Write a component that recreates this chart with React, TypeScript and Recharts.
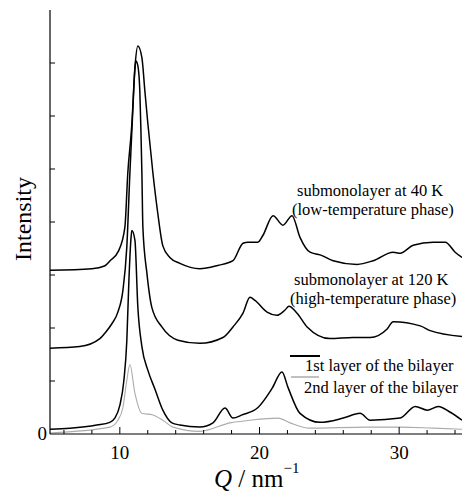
import { LineChart, Line, XAxis, YAxis } from 'recharts'

// Q / nm^-1 and intensity (arb. units), one pair of arrays per trace
const q40K = [5, 8, 8.9, 9.3, 9.9, 10.36, 10.57, 10.86, 11.08, 11.29, 11.58, 11.79, 12.01, 12.37, 12.72, 13.08, 13.58, 14.3, 15.73, 17.0, 18.1, 18.82, 19.18, 19.89, 20.25, 20.97, 21.68, 22.33, 22.9, 23.62, 24.34, 25.27, 26.99, 28.14, 29.57, 30.07, 31.0, 32.44, 33.3, 34.01, 34.5]
const i40K = [3.09, 3.12, 3.17, 3.27, 3.45, 3.9, 4.92, 5.85, 6.91, 7.32, 7.1, 6.48, 5.85, 4.92, 4.16, 3.55, 3.33, 3.22, 3.12, 3.18, 3.27, 3.6, 3.62, 3.62, 3.75, 4.12, 3.94, 4.12, 3.71, 3.43, 3.38, 3.27, 3.2, 3.27, 3.43, 3.41, 3.56, 3.62, 3.62, 3.43, 3.33]

const q120K = [5, 7.13, 8.57, 8.92, 9.43, 9.86, 10.22, 10.5, 10.72, 10.93, 11.08, 11.15, 11.29, 11.43, 11.51, 11.58, 11.65, 11.94, 12.29, 13.01, 14.16, 15.73, 17.38, 18.1, 18.82, 19.32, 19.68, 20.54, 21.25, 21.83, 22.11, 22.69, 23.41, 25.05, 26.7, 27.92, 29.14, 29.57, 31.51, 32.22, 34.5]
const i120K = [1.62, 1.65, 1.8, 1.9, 2.08, 2.3, 2.71, 3.53, 4.92, 6.11, 6.89, 7.04, 6.95, 6.48, 5.72, 4.92, 3.9, 3.03, 2.39, 2.02, 1.77, 1.71, 1.82, 2.02, 2.28, 2.58, 2.52, 2.3, 2.24, 2.34, 2.41, 2.28, 2.02, 1.8, 1.82, 1.82, 1.98, 2.12, 2.04, 1.95, 1.84]

const qLayer1 = [5, 6.42, 8.35, 9.28, 9.64, 10.0, 10.29, 10.5, 10.65, 10.79, 10.86, 11.08, 11.29, 11.58, 12.01, 12.51, 13.08, 13.73, 14.3, 15.73, 16.67, 17.53, 18.1, 18.75, 19.89, 20.9, 21.61, 22.04, 22.9, 24.34, 25.99, 27.2, 27.92, 30.07, 31.15, 32.01, 32.8, 33.66, 34.5]
const iLayer1 = [0.09, 0.11, 0.17, 0.22, 0.3, 0.54, 1.01, 1.76, 2.9, 3.66, 3.84, 3.66, 2.39, 1.65, 1.2, 0.85, 0.45, 0.21, 0.17, 0.13, 0.21, 0.49, 0.3, 0.36, 0.5, 0.86, 1.17, 0.88, 0.39, 0.22, 0.3, 0.39, 0.26, 0.3, 0.52, 0.45, 0.52, 0.41, 0.26]

const qLayer2 = [5, 9.28, 9.86, 10.22, 10.5, 10.72, 11.08, 11.58, 12.37, 13.08, 13.8, 15.73, 17.89, 19.32, 21.33, 22.19, 23.62, 27.71, 30.07, 32.44, 34.5]
const iLayer2 = [0.02, 0.13, 0.26, 0.5, 1.01, 1.31, 0.77, 0.39, 0.36, 0.26, 0.13, 0.05, 0.21, 0.26, 0.3, 0.21, 0.11, 0.13, 0.13, 0.11, 0.09]

const qTicks = [6, 8, 10, 12, 14, 16, 18, 20, 22, 24, 26, 28, 30, 32, 34]
const qLabelled = [10, 20, 30]
const yTicks = [0, 1, 2, 3, 4, 5, 6, 7]

const serif = '"Liberation Serif", "Times New Roman", serif'

const toRows = (q: number[], v: number[]) => q.map((x, i) => ({ q: x, v: v[i] }))

function BottomTick({ x, y, payload }: any) {
  const major = qLabelled.includes(payload.value)
  return (
    <g>
      <line x1={x} x2={x} y1={y} y2={y - (major ? 7 : 4)} stroke="#000" />
      {major && (
        <text x={x} y={y + 25} textAnchor="middle" fontFamily={serif} fontSize={19} fill="#000">
          {payload.value}
        </text>
      )}
    </g>
  )
}

function TopTick({ x, y, payload }: any) {
  const major = qLabelled.includes(payload.value)
  return <line x1={x} x2={x} y1={y} y2={y + (major ? 7 : 4)} stroke="#000" />
}

function LeftTick({ x, y, payload }: any) {
  return (
    <g>
      {payload.value !== 0 && <line x1={x} x2={x + 5} y1={y} y2={y} stroke="#000" />}
      {payload.value === 0 && (
        <text x={x - 3} y={y + 6} textAnchor="end" fontFamily={serif} fontSize={19} fill="#000">
          0
        </text>
      )}
    </g>
  )
}

export default function App() {
  const series = [
    { key: '40K', rows: toRows(q40K, i40K), color: '#000', width: 1.5 },
    { key: '120K', rows: toRows(q120K, i120K), color: '#000', width: 1.5 },
    { key: 'layer2', rows: toRows(qLayer2, iLayer2), color: '#ababab', width: 1.1 },
    { key: 'layer1', rows: toRows(qLayer1, iLayer1), color: '#000', width: 1.5 }
  ]

  return (
    <div style={{ position: 'absolute', left: 0, top: 0, width: 462, height: 494, background: '#fff' }}>
      <LineChart width={462} height={494} margin={{ top: 10, right: 0, bottom: 0, left: 0 }}>
        <XAxis
          xAxisId="b"
          type="number"
          dataKey="q"
          domain={[5, 34.5]}
          ticks={qTicks}
          interval={0}
          height={60}
          tickSize={0}
          tickMargin={0}
          tick={<BottomTick />}
          axisLine={{ stroke: '#000', strokeWidth: 1.2 }}
          allowDataOverflow
        />
        <XAxis
          xAxisId="t"
          orientation="top"
          type="number"
          dataKey="q"
          domain={[5, 34.5]}
          ticks={qTicks}
          interval={0}
          height={0}
          tickSize={0}
          tickMargin={0}
          tick={<TopTick />}
          axisLine={{ stroke: '#000', strokeWidth: 1.2 }}
          allowDataOverflow
        />
        <YAxis
          yAxisId="l"
          type="number"
          domain={[0, 8]}
          ticks={yTicks}
          interval={0}
          width={50}
          tickSize={0}
          tickMargin={0}
          tick={<LeftTick />}
          axisLine={{ stroke: '#000', strokeWidth: 1.2 }}
          allowDataOverflow
        />
        {series.map((s) => (
          <Line
            key={s.key}
            xAxisId="b"
            yAxisId="l"
            data={s.rows}
            dataKey="v"
            type="monotone"
            stroke={s.color}
            strokeWidth={s.width}
            dot={false}
            activeDot={false}
            isAnimationActive={false}
          />
        ))}
      </LineChart>
      <svg
        width={462}
        height={494}
        style={{ position: 'absolute', left: 0, top: 0, pointerEvents: 'none' }}
        fontFamily={serif}
        fill="#000"
      >
        <text x={297} y={196} fontSize={16.5}>submonolayer at 40 K</text>
        <text x={292} y={215} fontSize={16.5}>(low-temperature phase)</text>
        <text x={294} y={285} fontSize={16.5}>submonolayer at 120 K</text>
        <text x={290} y={304} fontSize={16.5}>(high-temperature phase)</text>
        <line x1={290} x2={320} y1={356} y2={356} stroke="#000" strokeWidth={2} />
        <text x={305} y={371} fontSize={16.5}>1st layer of the bilayer</text>
        <line x1={291} x2={319} y1={377} y2={377} stroke="#ababab" strokeWidth={1.5} />
        <text x={304} y={393} fontSize={16.5}>2nd layer of the bilayer</text>
        <text x={31} y={219} fontSize={24} textAnchor="middle" transform="rotate(-90 31 219)">
          Intensity
        </text>
        <text x={214} y={487} fontSize={25}>
          <tspan fontStyle="italic">Q</tspan>
          <tspan> / nm</tspan>
          <tspan dy={-14} fontSize={15}>−1</tspan>
        </text>
      </svg>
    </div>
  )
}
